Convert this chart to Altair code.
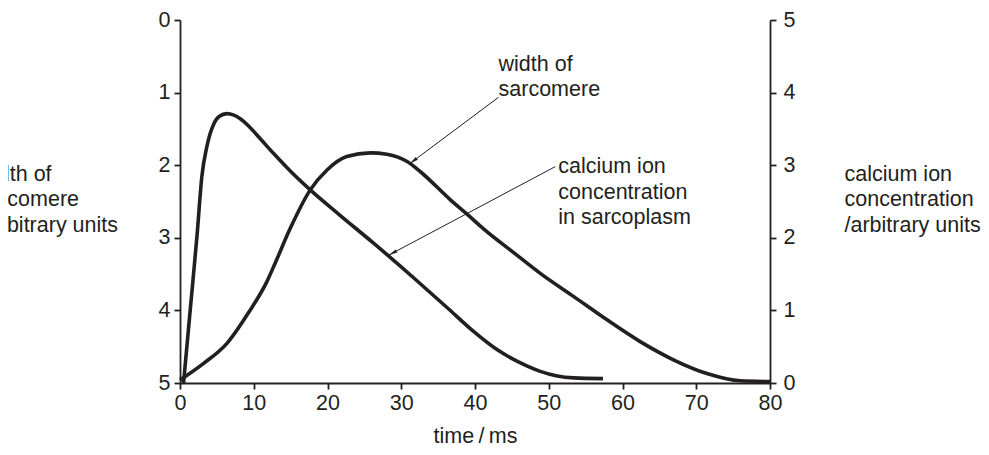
import math

import altair as alt
import pandas as pd

INK = "#231f20"
FONT = "Liberation Sans"
FONT_SIZE = 21.5
LINE_HEIGHT = 25.5
PLOT_W, PLOT_H = 590, 363

# width of sarcomere, read against the left axis (0 at the top)
sarc_time = [0.0, 3.2, 6.4, 9.3, 11.8, 12.9, 14.95, 17.66, 19.9, 22.6, 25.8,
             28.06, 30.8, 32.6, 36.7, 39.0, 41.2, 45.2, 48.85, 53.4, 57.9,
             62.4, 66.9, 71.45, 75.97, 80.0]
sarc_width = [4.96, 4.73, 4.45, 4.03, 3.6, 3.35, 2.87, 2.34, 2.07, 1.88, 1.83,
              1.85, 1.95, 2.09, 2.48, 2.68, 2.88, 3.2, 3.49, 3.81, 4.13,
              4.43, 4.68, 4.87, 4.97, 4.98]

# calcium ion concentration, read against the right axis (0 at the bottom)
calc_time = [0.48, 1.39, 2.3, 2.97, 3.65, 4.55, 5.3, 6.37, 7.3, 8.17, 9.3,
             10.4, 12.7, 14.95, 17.66, 21.7, 26.2, 31.67, 36.2, 39.8, 42.98,
             46.1, 48.85, 51.0, 53.4, 57.35]
calc_conc = [0.0, 1.01, 2.02, 2.85, 3.26, 3.56, 3.67, 3.71, 3.69, 3.64, 3.54,
             3.42, 3.16, 2.92, 2.66, 2.31, 1.93, 1.45, 1.04, 0.71, 0.46,
             0.28, 0.16, 0.10, 0.07, 0.06]

time_ticks = list(range(0, 81, 10))
unit_ticks = [0, 1, 2, 3, 4, 5]

# labels and arrows, in ms and left-axis units
note_text = ["width of\nsarcomere", "calcium ion\nconcentration\nin sarcoplasm"]
note_time = [43.19, 51.29]
note_level = [0.467, 1.875]
arrow_from_time = [43.19, 50.88]
arrow_from_level = [1.065, 2.02]
arrow_to_time = [31.13, 28.28]
arrow_to_level = [1.98, 3.24]

ARROW_HEAD = "M0,0L0.42,2.2L-0.42,2.2Z"

sarc = pd.DataFrame({"time": sarc_time, "width": sarc_width})
calc = pd.DataFrame({"time": calc_time, "conc": calc_conc})
notes = pd.DataFrame({"label": note_text, "time": note_time, "level": note_level})
arrows = pd.DataFrame({
    "t0": arrow_from_time, "l0": arrow_from_level,
    "t1": arrow_to_time, "l1": arrow_to_level,
})
# direction of each head on screen, clockwise from straight up
dx = (arrows["t1"] - arrows["t0"]) * PLOT_W / 80
dy = (arrows["l1"] - arrows["l0"]) * PLOT_H / 5
arrows["angle"] = [math.degrees(math.atan2(a, -b)) % 360 for a, b in zip(dx, dy)]

x_scale = alt.Scale(domain=[0, 80], nice=False)
left_scale = alt.Scale(domain=[0, 5], reverse=True, nice=False)
right_scale = alt.Scale(domain=[0, 5], nice=False)

# the same axis on every layer so the shared x axis merges into one
x_axis = alt.Axis(
    values=time_ticks, title="time\u2009/\u2009ms", labelFlush=False,
    labelPadding=3, titleX=PLOT_W / 2, titleY=42,
    titleAlign="center", titleBaseline="top",
)


def time_x(field):
    return alt.X(f"{field}:Q", scale=x_scale, axis=x_axis)


sarc_line = alt.Chart(sarc).mark_line(
    color=INK, strokeWidth=3.6, interpolate="monotone"
).encode(
    x=time_x("time"),
    y=alt.Y("width:Q", scale=left_scale, axis=alt.Axis(
        values=unit_ticks, labelPadding=4,
        title=["width of", "sarcomere", "/\u2009arbitrary units"],
        titleAngle=0, titleAlign="left", titleBaseline="top",
        titleX=-203, titleY=143, titleLineHeight=LINE_HEIGHT,
    )),
)

calc_line = alt.Chart(calc).mark_line(
    color=INK, strokeWidth=3.6, interpolate="monotone"
).encode(
    x=time_x("time"),
    y=alt.Y("conc:Q", scale=right_scale, axis=alt.Axis(
        orient="right", values=unit_ticks, labelPadding=7,
        title=["calcium ion", "concentration", "/arbitrary units"],
        titleAngle=0, titleAlign="left", titleBaseline="top",
        titleX=74, titleY=143, titleLineHeight=LINE_HEIGHT,
    )),
)

arrow_lines = alt.Chart(arrows).mark_rule(color=INK, strokeWidth=1).encode(
    x=time_x("t0"),
    y=alt.Y("l0:Q", scale=left_scale, axis=None),
    x2="t1:Q",
    y2="l1:Q",
)

arrow_heads = alt.Chart(arrows).mark_point(
    shape=ARROW_HEAD, size=67, filled=True, color=INK, opacity=1
).encode(
    x=time_x("t1"),
    y=alt.Y("l1:Q", scale=left_scale, axis=None),
    angle=alt.Angle("angle:Q", scale=None),
)

note_labels = alt.Chart(notes).mark_text(
    align="left", baseline="top", lineBreak="\n", lineHeight=LINE_HEIGHT,
    font=FONT, fontSize=FONT_SIZE, color=INK,
).encode(
    x=time_x("time"),
    y=alt.Y("level:Q", scale=left_scale, axis=None),
    text="label:N",
)

# every layer keeps its own y scale; the annotation ones copy the left scale
chart = (
    alt.layer(sarc_line, calc_line, arrow_lines, arrow_heads, note_labels)
    .resolve_scale(y="independent")
    .properties(
        width=PLOT_W,
        height=PLOT_H,
        autosize=alt.AutoSizeParams(type="none"),
        padding={"left": 172, "top": 12, "right": 211, "bottom": 64},
        background="white",
    )
    .configure_view(stroke=None)
    .configure_axis(
        grid=False,
        domainColor=INK, domainWidth=1.8,
        tickColor=INK, tickWidth=1.8, tickSize=6,
        labelColor=INK, labelFont=FONT, labelFontSize=FONT_SIZE,
        titleColor=INK, titleFont=FONT, titleFontSize=FONT_SIZE,
        titleFontWeight="normal",
    )
)

chart.save("out.html", embed_options={"renderer": "svg", "actions": False})
